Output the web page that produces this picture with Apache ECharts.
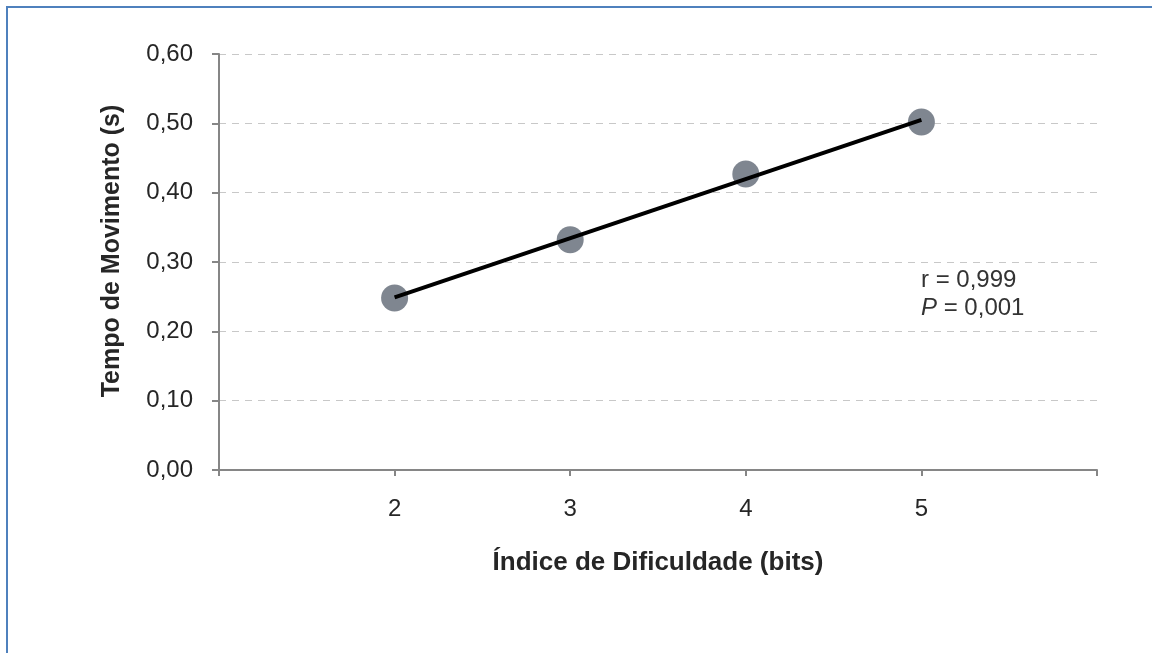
<!DOCTYPE html>
<html>
<head>
<meta charset="utf-8">
<script src="https://cdn.jsdelivr.net/npm/echarts@6/dist/echarts.min.js"></script>
<style>
  html, body { margin: 0; padding: 0; background: #fff; }
  #frame {
    position: absolute; left: 6px; top: 6px; right: 0; bottom: 0;
    border-left: 2px solid #4f81bd; border-top: 2px solid #4f81bd;
    pointer-events: none;
  }
  #chart { width: 1152px; height: 653px; }
</style>
</head>
<body>
<div id="chart"></div>
<div id="frame"></div>
<script>
// dados
const indice = [2, 3, 4, 5];
const tempo = [0.248, 0.332, 0.427, 0.502];
// reta de regressão (extremos)
const retaX = [2, 5];
const retaY = [0.249, 0.505];
const rTexto = "0,999";
const pTexto = "0,001";

const chart = echarts.init(document.getElementById("chart"));

const fmt = (v) => v.toFixed(2).replace(".", ",");

chart.setOption({
  animation: false,
  backgroundColor: "#fff",
  textStyle: { fontFamily: "Liberation Sans, Arial, sans-serif" },
  grid: { left: 219, right: 55, top: 54, bottom: 183 },
  xAxis: {
    type: "value",
    min: 1,
    max: 6,
    interval: 1,
    name: "Índice de Dificuldade (bits)",
    nameLocation: "middle",
    nameGap: 80,
    nameTextStyle: { fontSize: 26, fontWeight: "bold", color: "#262626" },
    axisLine: { lineStyle: { color: "#868686", width: 2 } },
    axisTick: { length: 6, lineStyle: { color: "#868686", width: 2 } },
    axisLabel: {
      fontSize: 24,
      color: "#262626",
      margin: 27,
      formatter: (v) => (v >= 2 && v <= 5 ? String(v) : "")
    },
    splitLine: { show: false }
  },
  yAxis: {
    type: "value",
    min: 0,
    max: 0.6,
    interval: 0.1,
    name: "Tempo de Movimento (s)",
    nameLocation: "middle",
    nameGap: 94,
    nameTextStyle: { fontSize: 25, fontWeight: "bold", color: "#262626", padding: [0, 0, 0, 22] },
    axisLine: { show: true, lineStyle: { color: "#868686", width: 2 } },
    axisTick: { show: true, length: 7, lineStyle: { color: "#868686", width: 2 } },
    axisLabel: { fontSize: 24, color: "#262626", margin: 26, formatter: fmt },
    splitLine: { lineStyle: { color: "#c8c8c8", type: [7, 6], width: 1 } }
  },
  graphic: [
    {
      type: "text",
      left: 921,
      top: 268,
      style: {
        text: "{n|r = " + rTexto + "}\n{i|P}{n| = " + pTexto + "}",
        rich: {
          n: { fontSize: 24, lineHeight: 28, fill: "#333", fontFamily: "Liberation Sans" },
          i: { fontSize: 24, lineHeight: 28, fontStyle: "italic", fill: "#333", fontFamily: "Liberation Sans" }
        }
      }
    }
  ],
  series: [
    {
      type: "scatter",
      data: indice.map((x, i) => [x, tempo[i]]),
      symbolSize: 27,
      itemStyle: { color: "#7f8690", opacity: 1 },
      z: 2
    },
    {
      type: "line",
      data: retaX.map((x, i) => [x, retaY[i]]),
      showSymbol: false,
      lineStyle: { color: "#000", width: 4 },
      z: 3
    }
  ]
});
</script>
</body>
</html>
